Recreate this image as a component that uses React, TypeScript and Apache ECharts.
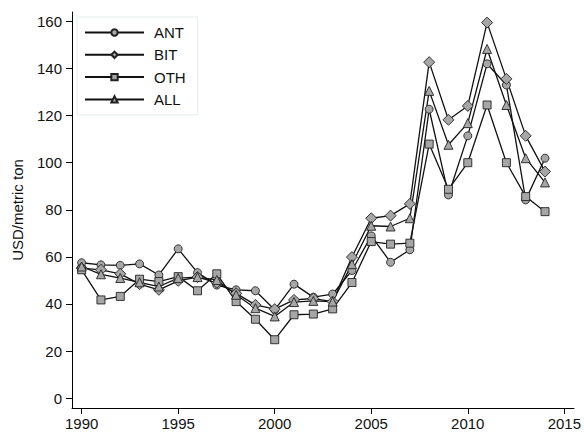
import { useEffect, useRef } from "react";
import * as echarts from "echarts";

const years = [
  1990, 1991, 1992, 1993, 1994, 1995, 1996, 1997, 1998, 1999, 2000, 2001, 2002,
  2003, 2004, 2005, 2006, 2007, 2008, 2009, 2010, 2011, 2012, 2013, 2014,
];
const ant = [
  57.5, 56.6, 56.4, 57.0, 52.3, 63.4, 53.3, 48.0, 46.0, 45.6, 37.5, 48.4, 42.9,
  44.2, 54.2, 68.9, 57.7, 63.0, 122.7, 86.3, 111.4, 142.0, 133.0, 84.2, 101.9,
];
const bit = [
  55.2, 54.5, 52.8, 48.4, 46.0, 49.8, 51.4, 49.0, 44.5, 39.6, 37.8, 41.7, 42.3,
  41.0, 59.9, 76.4, 77.5, 82.5, 142.7, 118.2, 124.1, 159.5, 135.6, 111.4, 96.2,
];
const oth = [
  54.5, 41.7, 43.2, 50.5, 49.5, 51.6, 45.6, 52.8, 41.0, 33.5, 24.8, 35.4, 35.7,
  37.9, 49.1, 66.5, 65.4, 65.8, 107.9, 88.7, 100.0, 124.5, 100.0, 85.6, 79.2,
];
const all = [
  55.9, 52.6, 51.0, 49.2, 47.4, 51.0, 51.4, 50.2, 43.9, 38.2, 34.7, 40.8, 41.3,
  41.0, 56.9, 73.2, 72.9, 76.4, 130.5, 107.6, 116.8, 148.3, 124.5, 101.9, 91.6,
];
const xTicks = [1990, 1995, 2000, 2005, 2010, 2015];
const yTicks = [0, 20, 40, 60, 80, 100, 120, 140, 160];

const font = "Liberation Sans, Arial, sans-serif";

const mkSeries = (name: string, values: number[], symbol: string, size: number) => ({
  name,
  type: "line" as const,
  data: values.map((v, i) => [years[i], v]),
  symbol,
  symbolSize: size,
  showSymbol: true,
  lineStyle: { color: "#111", width: 1.3 },
  itemStyle: { color: "#a6a6a6", borderColor: "#222", borderWidth: 0.9 },
});

const App = () => {
  const ref = useRef<HTMLDivElement>(null);

  useEffect(() => {
    if (!ref.current) return;
    const chart = echarts.init(ref.current, undefined, { renderer: "svg" });
    chart.setOption({
      animation: false,
      backgroundColor: "#fff",
      textStyle: { fontFamily: font },
      grid: { left: 72, right: 9, top: 12, bottom: 25 },
      legend: {
        orient: "vertical",
        left: 77,
        top: 17,
        padding: [8, 12, 8, 7],
        itemWidth: 59,
        itemHeight: 8,
        itemGap: 7.3,
        borderColor: "#e4ecee",
        borderWidth: 1,
        textStyle: { fontSize: 15, color: "#111", fontFamily: font, padding: [0, 0, 0, 5] },
        data: ["ANT", "BIT", "OTH", "ALL"],
      },
      xAxis: {
        type: "value",
        min: 1989.5,
        max: 2015.5,
        splitLine: { show: false },
        axisLine: { onZero: false, lineStyle: { color: "#000", width: 1 } },
        axisTick: { customValues: xTicks, length: 6, lineStyle: { color: "#000" } },
        axisLabel: {
          customValues: xTicks,
          formatter: (v: number) => String(v),
          fontSize: 15,
          color: "#111",
          margin: 8,
          fontFamily: font,
        },
      },
      yAxis: {
        type: "value",
        min: -4.2,
        max: 164,
        name: "USD/metric ton",
        nameLocation: "middle",
        nameGap: 47,
        nameTextStyle: { fontSize: 15, color: "#111", fontFamily: font },
        splitLine: { show: false },
        axisLine: { show: true, lineStyle: { color: "#000", width: 1 } },
        axisTick: { show: true, customValues: yTicks, length: 6, lineStyle: { color: "#000" } },
        axisLabel: {
          customValues: yTicks,
          formatter: (v: number) => String(v),
          fontSize: 15,
          color: "#111",
          margin: 10,
          fontFamily: font,
        },
      },
      series: [
        mkSeries("ANT", ant, "circle", 8),
        mkSeries("BIT", bit, "diamond", 11),
        mkSeries("OTH", oth, "rect", 8),
        mkSeries("ALL", all, "triangle", 9),
      ],
    });
    return () => chart.dispose();
  }, []);

  return (
    <div
      ref={ref}
      style={{ position: "fixed", left: 0, top: 0, width: 584, height: 433 }}
    />
  );
};

export default App;
